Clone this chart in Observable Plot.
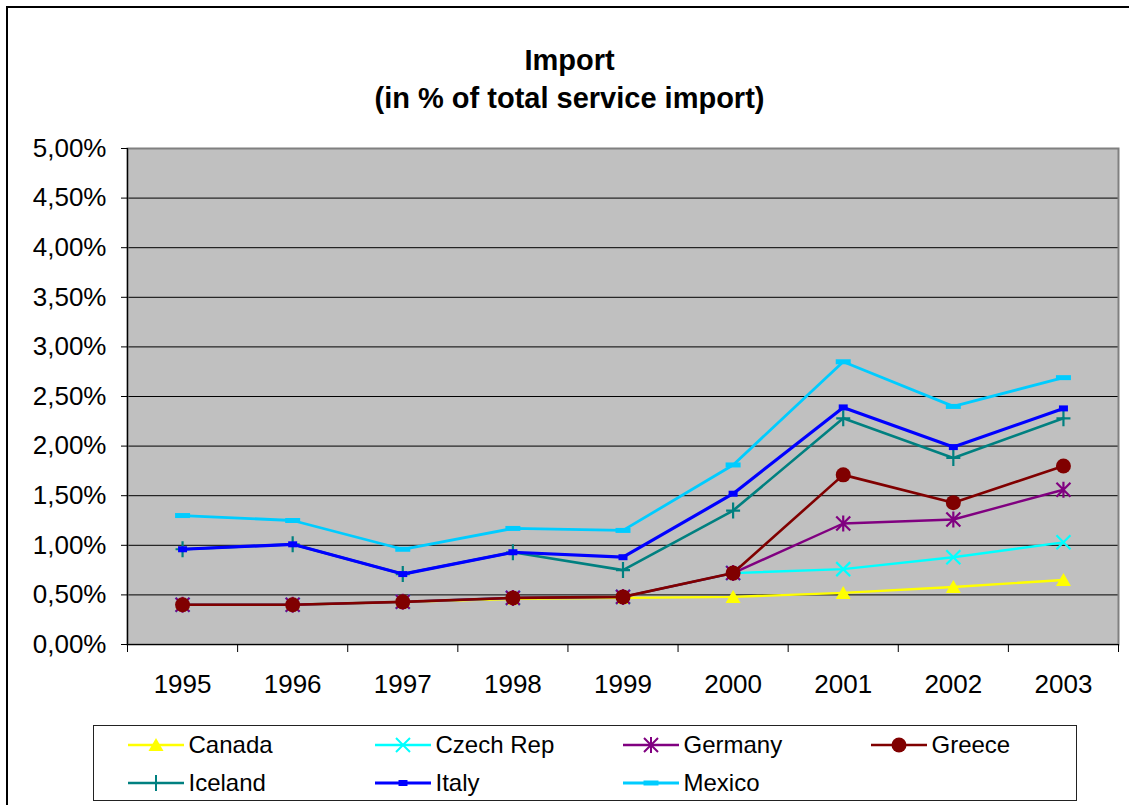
<!DOCTYPE html>
<html>
<head>
<meta charset="utf-8">
<script src="https://cdn.jsdelivr.net/npm/d3@7"></script>
<script src="https://cdn.jsdelivr.net/npm/@observablehq/plot@0.6"></script>
<style>
  body { margin: 0; background: #fff; font-family: "Liberation Sans", Arial, sans-serif; }
  #wrap { position: relative; width: 1129px; height: 805px; overflow: hidden; background: #fff; }
  #frame { position: absolute; left: 6px; top: 6px; width: 1140px; height: 830px; border: 2px solid #000; }
  #title { position: absolute; left: 0; width: 1139px; top: 41px; text-align: center; font-weight: bold; font-size: 29px; line-height: 38px; color: #000; }
  #chart { position: absolute; left: 0; top: 0; }
  #legend { position: absolute; left: 93px; top: 725px; width: 984px; height: 76px; border: 1.5px solid #222; box-sizing: border-box; background: #fff; }
  .entry { position: absolute; display: flex; align-items: center; height: 30px; font-size: 24px; color: #000; white-space: nowrap; }
  .entry svg { margin-right: 5px; }
</style>
</head>
<body>
<div id="wrap">
  <div id="frame"></div>
  <div id="title">Import<br>(in % of total service import)</div>
  <div id="chart"></div>
  <div id="legend"></div>
</div>
<script>
// ---- data (values in % of total service import) ----
const years = [1995, 1996, 1997, 1998, 1999, 2000, 2001, 2002, 2003];
const seriesNames = ["Canada", "Czech Rep", "Germany", "Greece", "Iceland", "Italy", "Mexico"];
const canada  = [0.40, 0.40, 0.43, 0.46, 0.47, 0.48, 0.52, 0.58, 0.65];
const czech   = [0.40, 0.40, 0.43, 0.47, 0.48, 0.72, 0.76, 0.88, 1.03];
const germany = [0.40, 0.40, 0.43, 0.47, 0.48, 0.72, 1.22, 1.26, 1.56];
const greece  = [0.40, 0.40, 0.43, 0.47, 0.48, 0.72, 1.71, 1.43, 1.80];
const iceland = [0.96, 1.01, 0.71, 0.93, 0.75, 1.35, 2.28, 1.88, 2.28];
const italy   = [0.96, 1.01, 0.71, 0.93, 0.88, 1.52, 2.39, 1.99, 2.38];
const mexico  = [1.30, 1.25, 0.96, 1.17, 1.15, 1.81, 2.85, 2.40, 2.69];
const yTicks  = [0, 0.5, 1, 1.5, 2, 2.5, 3, 3.5, 4, 4.5, 5];

const values = [canada, czech, germany, greece, iceland, italy, mexico];

// ---- marker symbols ----
const sym = {
  triangle: { draw(c) { c.moveTo(0, -7); c.lineTo(7.5, 6); c.lineTo(-7.5, 6); c.closePath(); } },
  cross:    { draw(c) { c.moveTo(-7, -7); c.lineTo(7, 7); c.moveTo(7, -7); c.lineTo(-7, 7); } },
  asterisk: { draw(c) { c.moveTo(-7, -7); c.lineTo(7, 7); c.moveTo(7, -7); c.lineTo(-7, 7); c.moveTo(0, -8); c.lineTo(0, 8); } },
  circle:   { draw(c) { c.moveTo(7.5, 0); c.arc(0, 0, 7.5, 0, 2 * Math.PI); c.closePath(); } },
  plus:     { draw(c) { c.moveTo(-7, 0); c.lineTo(7, 0); c.moveTo(0, -8); c.lineTo(0, 8); } },
  smallRect:{ draw(c) { c.rect(-4.5, -3, 9, 6); } },
  wideRect: { draw(c) { c.rect(-7.5, -2.5, 15, 5); } }
};

const styles = [
  { color: "#FFFF00", symbol: sym.triangle, filled: true,  lw: 2.4 },
  { color: "#00FFFF", symbol: sym.cross,    filled: false, lw: 2.4 },
  { color: "#800080", symbol: sym.asterisk, filled: false, lw: 2.4 },
  { color: "#800000", symbol: sym.circle,   filled: true,  lw: 2.6 },
  { color: "#008080", symbol: sym.plus,     filled: false, lw: 2.6 },
  { color: "#0000FF", symbol: sym.smallRect,filled: true,  lw: 3.2 },
  { color: "#00CCFF", symbol: sym.wideRect, filled: true,  lw: 2.8 }
];

const bounds = years.map(y => y - 0.5).concat([years[years.length - 1] + 0.5]);

const marks = [
  Plot.frame({ fill: "#C0C0C0" }),
  Plot.ruleY(yTicks.filter(d => d > 0 && d < 5), { stroke: "#000", strokeWidth: 1 }),
  Plot.frame({ stroke: "#808080", strokeWidth: 2 }),
  Plot.ruleX([bounds[0]], { stroke: "#000", strokeWidth: 1.2 }),
  Plot.ruleY([0], { stroke: "#000", strokeWidth: 1.2 }),
  Plot.axisY(yTicks, { tickSize: 6, tickPadding: 15, label: null, tickFormat: d => d.toFixed(2).replace(".", ",") + "%", stroke: "#000", fill: "#000" }),
  Plot.axisX(years, { tickSize: 0, tickPadding: 30, label: null, tickFormat: d => String(d), fill: "#000" }),
  Plot.axisX(bounds, { tickSize: 8, label: null, tickFormat: () => "", stroke: "#000" })
];

seriesNames.forEach((name, i) => {
  const rows = years.map((y, k) => ({ year: y, value: values[i][k], series: name }));
  const s = styles[i];
  marks.push(Plot.line(rows, { x: "year", y: "value", stroke: s.color, strokeWidth: s.lw }));
  marks.push(Plot.dot(rows, {
    x: "year", y: "value", symbol: s.symbol, r: 5,
    fill: s.filled ? s.color : "none",
    stroke: s.filled ? "none" : s.color,
    strokeWidth: s.filled ? 0 : 2.2
  }));
});

const chart = Plot.plot({
  width: 1129,
  height: 705,
  marginTop: 148,
  marginBottom: 61,
  marginLeft: 127,
  marginRight: 11,
  style: { fontSize: "26px", fontFamily: "'Liberation Sans', Arial, sans-serif", background: "transparent", color: "#000" },
  x: { type: "linear", domain: [bounds[0], bounds[bounds.length - 1]], label: null },
  y: { domain: [0, 5], label: null },
  marks
});
document.getElementById("chart").appendChild(chart);

// ---- legend ----
const legend = document.getElementById("legend");
const colX = [128, 375, 623, 871];
const rowY = [745, 783];
seriesNames.forEach((name, i) => {
  const s = styles[i];
  const div = document.createElement("div");
  div.className = "entry";
  div.style.left = (colX[i % 4] - 93 - 1.5) + "px";
  div.style.top = (rowY[Math.floor(i / 4)] - 725 - 1.5 - 15) + "px";
  const p = d3.path();
  s.symbol.draw(p);
  const svg = d3.create("svg").attr("width", 56).attr("height", 24);
  svg.append("line").attr("x1", 0).attr("x2", 56).attr("y1", 12).attr("y2", 12)
    .attr("stroke", s.color).attr("stroke-width", s.lw);
  svg.append("path").attr("transform", "translate(28,12)").attr("d", p.toString())
    .attr("fill", s.filled ? s.color : "none")
    .attr("stroke", s.filled ? "none" : s.color)
    .attr("stroke-width", 2);
  div.appendChild(svg.node());
  const span = document.createElement("span");
  span.textContent = name;
  div.appendChild(span);
  legend.appendChild(div);
});
</script>
</body>
</html>
